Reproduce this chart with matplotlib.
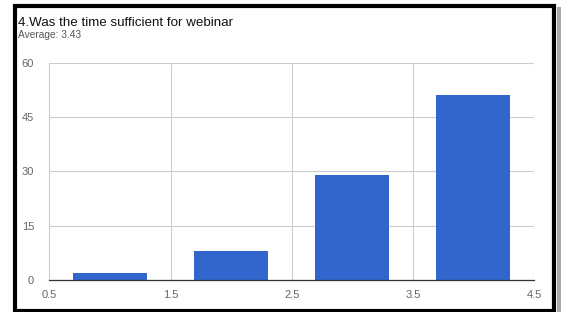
import matplotlib
matplotlib.use("Agg")
import matplotlib.pyplot as plt
from matplotlib.patches import Rectangle

title = "4.Was the time sufficient for webinar"
subtitle = "Average: 3.43"
ratings = [1, 2, 3, 4]
counts = [2, 8, 29, 51]
xticks = [0.5, 1.5, 2.5, 3.5, 4.5]
yticks = [0, 15, 30, 45, 60]

plt.rcParams['font.family'] = ['Liberation Sans', 'DejaVu Sans']

W, H = 561, 312
fig = plt.figure(figsize=(W / 100, H / 100), dpi=100)
fig.patch.set_facecolor('white')

ax = fig.add_axes([49.4 / W, 1 - 280 / H, (534 - 49.4) / W, (280 - 62.7) / H])
ax.bar(ratings, counts, width=0.61, color='#3366CC', zorder=3)
ax.set_xlim(0.5, 4.5)
ax.set_ylim(0, 60)
ax.set_xticks(xticks)
ax.set_xticklabels([f"{v:g}" for v in xticks])
ax.set_yticks(yticks)
ax.grid(True, color='#cccccc', linewidth=0.8, zorder=0)
for s in ['top', 'right', 'left']:
    ax.spines[s].set_visible(False)
ax.spines['bottom'].set_color('#333333')
ax.spines['bottom'].set_linewidth(0.9)
ax.spines['bottom'].set_zorder(4)
ax.tick_params(axis='both', length=0, labelsize=8, labelcolor='#666666')
ax.tick_params(axis='x', pad=7)
ax.tick_params(axis='y', pad=11)

fig.text(18 / W, 1 - 26 / H, title, fontsize=9.6, color='#111111', va='baseline', ha='left')
fig.text(18 / W, 1 - 37.5 / H, subtitle, fontsize=7.3, color='#555555', va='baseline', ha='left')

# outer frame with shadow
fig.patches.append(Rectangle((556.5 / W, 0), 4 / W, 1 - 7 / H, transform=fig.transFigure,
                             facecolor='#aaaaaa', edgecolor='none', zorder=0))
fig.patches.append(Rectangle((14.5 / W, 1 - 310.5 / H), (554 - 14.5) / W, (310.5 - 5.5) / H,
                             transform=fig.transFigure, fill=False, edgecolor='black',
                             linewidth=3, zorder=10))

fig.savefig("out.png", dpi=100)
